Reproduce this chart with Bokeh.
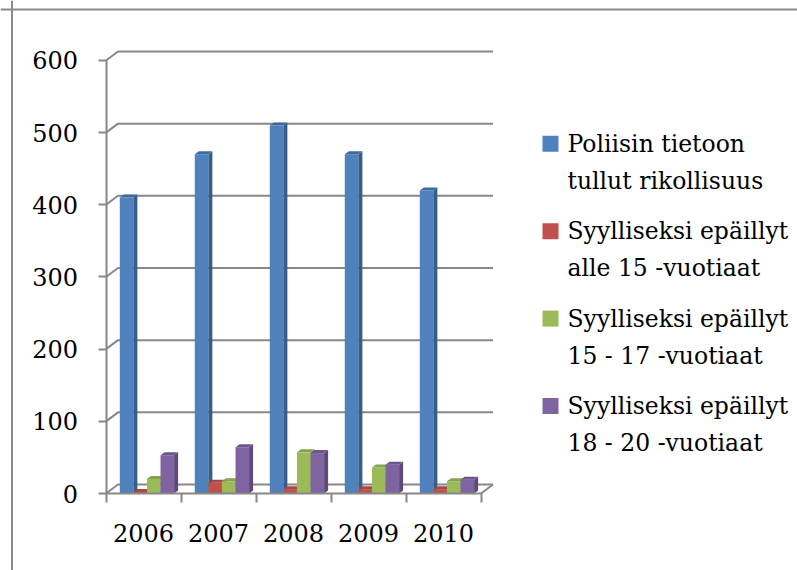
from bokeh.plotting import figure
from bokeh.models import LinearAxis, FixedTicker, Range1d, Span
from bokeh.core.properties import value
from bokeh.embed import file_html
from bokeh.resources import INLINE

# ---------------- data ----------------
years = ["2006", "2007", "2008", "2009", "2010"]
poliisin = [410, 470, 510, 470, 420]
alle_15 = [2, 15, 6, 6, 6]
v15_17 = [20, 17, 57, 36, 17]
v18_20 = [53, 64, 56, 40, 19]
series_values = [poliisin, alle_15, v15_17, v18_20]
series_labels = [
    ["Poliisin tietoon", "tullut rikollisuus"],
    ["Syylliseksi epäillyt", "alle 15 -vuotiaat"],
    ["Syylliseksi epäillyt", "15 -  17 -vuotiaat"],
    ["Syylliseksi epäillyt", "18 - 20 -vuotiaat"],
]
y_ticks = [0, 100, 200, 300, 400, 500, 600]

# ---------------- style ----------------
front_colors = ["#4F81BD", "#C0504D", "#9BBB59", "#8064A2"]
side_colors = ["#385D8A", "#8E3B39", "#728A42", "#5E4A78"]
top_colors = ["#3E6A9E", "#A84644", "#86A34C", "#6D568C"]
grid_color = "#878787"
FONT = "DejaVu Serif"
NUM_SIZE = "24px"
LEG_SIZE = "23.5px"

W, H = 797, 570
X0_PX = 105.5     # x of category axis start inside the figure
Y0_PX = 493.0     # y of value 0 inside the figure (from top)
CAT_PX = 75.0     # px per category
UNIT_PX = 0.7217  # px per value unit


def dx(px):
    return px / CAT_PX


def dy(px):
    return px / UNIT_PX


def px_to_x(px):
    return (px - X0_PX) / CAT_PX


def px_to_y(py):
    return (Y0_PX - py) / UNIT_PX


p = figure(width=W, height=H, output_backend="svg", toolbar_location=None,
           x_axis_type=None, y_axis_type=None,
           x_range=Range1d(px_to_x(0), px_to_x(W)),
           y_range=Range1d(px_to_y(H), px_to_y(0)),
           min_border=0, min_border_left=0, min_border_right=0,
           min_border_top=0, min_border_bottom=0)
p.outline_line_color = None
p.xgrid.visible = False
p.ygrid.visible = False
p.background_fill_color = "white"
p.border_fill_color = "white"

n = len(years)
WALL_DX = dx(12)
WALL_DY = dy(9)

# back wall gridlines with the left-wall diagonal
gxs = [[0, WALL_DX, n + WALL_DX] for v in y_ticks]
gys = [[v, v + WALL_DY, v + WALL_DY] for v in y_ticks]
p.multi_line(gxs, gys, line_color=grid_color, line_width=2)
# floor right edge
p.line([n, n + WALL_DX], [0, WALL_DY], line_color=grid_color, line_width=2)

# ---------------- 3D bars ----------------
BAR_START = 0.184
BAR_W = 0.181
SIDE_DX = dx(4)
SIDE_DY = dy(3)
for s, vals in enumerate(series_values):
    lefts = [c + BAR_START + s * BAR_W for c in range(n)]
    rights = [l + BAR_W for l in lefts]
    p.quad(left=lefts, right=rights, bottom=[0] * n, top=vals,
           fill_color=front_colors[s], line_color=None)
    side_xs = [[r, r + SIDE_DX, r + SIDE_DX, r] for r in rights]
    side_ys = [[0, SIDE_DY, v + SIDE_DY, v] for v in vals]
    p.patches(side_xs, side_ys, fill_color=side_colors[s], line_color=None)
    top_xs = [[l, l + SIDE_DX, r + SIDE_DX, r] for l, r in zip(lefts, rights)]
    top_ys = [[v, v + SIDE_DY, v + SIDE_DY, v] for v in vals]
    p.patches(top_xs, top_ys, fill_color=top_colors[s], line_color=None)

# ---------------- axes ----------------
yaxis = LinearAxis(fixed_location=0, bounds=(0, 600),
                   ticker=FixedTicker(ticks=y_ticks, minor_ticks=[]))
yaxis.axis_line_color = grid_color
yaxis.axis_line_width = 2
yaxis.major_tick_line_color = grid_color
yaxis.major_tick_line_width = 2
yaxis.major_tick_out = 8
yaxis.major_tick_in = 0
yaxis.minor_tick_line_color = None
yaxis.major_label_standoff = 20
yaxis.major_label_text_font = FONT
yaxis.major_label_text_font_size = NUM_SIZE
yaxis.major_label_text_color = "black"
p.add_layout(yaxis, "left")

centers = [i + 0.5 for i in range(n)]
xaxis = LinearAxis(fixed_location=0, bounds=(0, n),
                   ticker=FixedTicker(ticks=centers, minor_ticks=list(range(n + 1))))
xaxis.major_label_overrides = {c: y for c, y in zip(centers, years)}
xaxis.axis_line_color = grid_color
xaxis.axis_line_width = 2
xaxis.major_tick_line_color = None
xaxis.major_tick_out = 0
xaxis.major_tick_in = 0
xaxis.minor_tick_line_color = grid_color
xaxis.minor_tick_line_width = 2
xaxis.minor_tick_out = 9
xaxis.minor_tick_in = 0
xaxis.major_label_standoff = 21
xaxis.major_label_text_font = FONT
xaxis.major_label_text_font_size = NUM_SIZE
xaxis.major_label_text_color = "black"
p.add_layout(xaxis, "below")

# ---------------- legend ----------------
LEG_SQ_X = px_to_x(550)
LEG_TX_X = px_to_x(567)
LEG_Y0 = px_to_y(143.3)
LEG_STEP = dy(87.4)
LINE_STEP = dy(37)
sq_y = [LEG_Y0 - i * LEG_STEP for i in range(len(series_labels))]
p.scatter([LEG_SQ_X] * len(sq_y), sq_y, marker="square", size=16,
          fill_color=front_colors, line_color=None)
tx, ty, tt = [], [], []
for i, lines in enumerate(series_labels):
    for j, t in enumerate(lines):
        tx.append(LEG_TX_X)
        ty.append(sq_y[i] - j * LINE_STEP)
        tt.append(t)
p.text(tx, ty, text=tt, text_font=value(FONT), text_font_size=LEG_SIZE,
       text_baseline="middle", text_align="left", text_color="black")

# ---------------- chart border (top and left only) ----------------
p.add_layout(Span(location=px_to_x(11.5), dimension="height",
                  line_color="#8a8a8a", line_width=2))
p.add_layout(Span(location=px_to_y(9), dimension="width",
                  line_color="#8a8a8a", line_width=2))

open("out.html", "w").write(file_html(p, INLINE))
